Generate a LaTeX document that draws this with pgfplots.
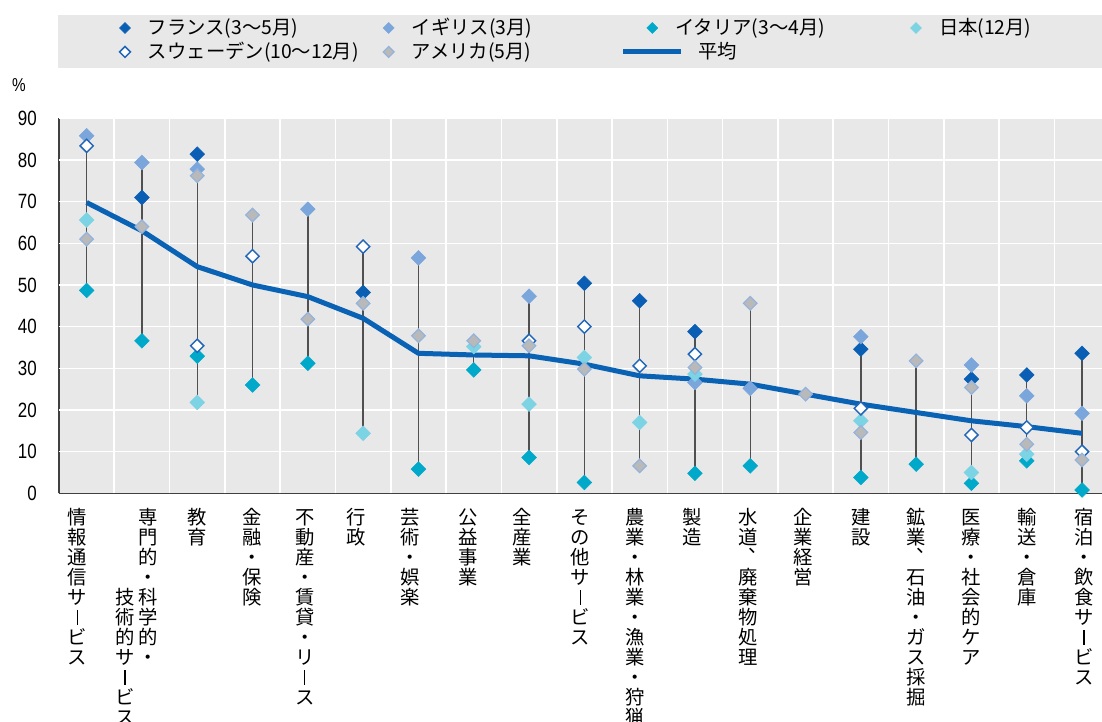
\documentclass[border=0pt]{standalone}
\usepackage{fontspec}
\setmainfont{Noto Sans CJK JP}
\newfontfamily\numfont[FakeStretch=0.82]{Liberation Sans}
\usepackage{pgfplots}
\pgfplotsset{compat=1.18}

\definecolor{bggray}{HTML}{E8E8E8}
\definecolor{leggray}{HTML}{E8E8E8}
\definecolor{axisgray}{HTML}{404040}
\definecolor{frc}{HTML}{0A5FB4}
\definecolor{ukc}{HTML}{7BA6DC}
\definecolor{itc}{HTML}{00A9CA}
\definecolor{jpc}{HTML}{7CD3E4}
\definecolor{swc}{HTML}{2266B8}
\definecolor{usc}{HTML}{B9B9B9}
\definecolor{usb}{HTML}{93B3DC}
\definecolor{avgc}{HTML}{0A62B4}
\definecolor{rngc}{HTML}{505050}

% ---- vertical (tategaki) labels ----
\def\vtend{}
\newcommand\vtcell[1]{\hbox to 15pt{\hss\vrule height 12.6pt depth 2.4pt width 0pt\relax#1\hss}}
\def\vtchoon{ー}
\def\vttouten{、}
\def\vtone#1{\def\vttmp{#1}%
  \ifx\vttmp\vtchoon
    \vtcell{\raise5.1pt\hbox{\vrule width 0.9pt height 5.6pt depth 5.6pt}}%
  \else\ifx\vttmp\vttouten
    \vtcell{\hbox to 1em{\kern0.5em\raise0.58em\hbox{、}\hss}}%
  \else
    \vtcell{#1}%
  \fi\fi}
\def\vtaux#1{\ifx\vtend#1\else\vtone{#1}\expandafter\vtaux\fi}
\newcommand\vt[2][0pt]{\vtop{\offinterlineskip\hrule height0pt width0pt\kern#1\vtaux#2\vtend}}
\newcommand\vo[2]{\hbox{\vt{#2}\kern#1}}

\pgfplotsset{
  mkleg/.style={legend image code/.code={\path[draw=none,fill=none] (0pt,-4pt) rectangle (9pt,4pt); \draw[##1, mark size=2.9pt] plot coordinates {(4.5pt,0pt)};}},
  avgleg/.style={legend image code/.code={\path[draw=none,fill=none] (0pt,-4pt) rectangle (9pt,4pt); \draw[##1, overlay] (-17.25pt,0pt) -- (26.25pt,0pt);}}
}

\begin{document}
\begin{tikzpicture}
\fill[leggray] (-0.75pt,319pt) rectangle (782.25pt,358.7pt);
\begin{axis}[
  scale only axis, width=782.25pt, height=281.25pt,
  xmin=-0.5, xmax=18.361, ymin=0, ymax=90,
  axis background/.style={fill=bggray},
  axis x line*=bottom, axis y line*=left,
  axis line style={draw=axisgray, line width=1.2pt},
  ytick={0,10,...,90},
  xtick={0.5,1.5,...,17.5},
  xticklabels={},
  tick align=inside,
  major tick length=5pt,
  tick style={draw=axisgray, line width=0.9pt},
  /pgf/number format/assume math mode=true,
  yticklabel style={font=\numfont\fontsize{15.5}{18}\selectfont, anchor=east, inner sep=0pt, xshift=-16.5pt},
  xticklabel style={font=\fontsize{14.5}{15}\selectfont, anchor=north, inner sep=0pt, yshift=-10.3pt},
  extra x ticks={0,...,18},
  extra x tick style={tick style={draw=none}},
  extra x tick labels={
    {\vo{13.5pt}{情報通信サービス}},
    {\hbox{\vt[60pt]{技術的サービス}\kern2.25pt\vt{専門的・科学的・}\kern8.25pt}},
    {\vt{教育}},
    {\vt{金融・保険}},
    {\vo{4.5pt}{不動産・賃貸・リース}},
    {\vo{10.5pt}{行政}},
    {\vo{12pt}{芸術・娯楽}},
    {\vo{9pt}{公益事業}},
    {\vo{10.5pt}{全産業}},
    {\vo{6pt}{その他サービス}},
    {\vo{6pt}{農業・林業・漁業・狩猟}},
    {\vo{4.5pt}{製造}},
    {\vo{3pt}{水道、廃棄物処理}},
    {\vo{3pt}{企業経営}},
    {\vt{建設}},
    {\vt{鉱業、石油・ガス採掘}},
    {\vt{医療・社会的ケア}},
    {\vt{輸送・倉庫}},
    {\hbox{\kern3pt\vt{宿泊・飲食サービス}}}
  },
  legend columns=4,
  legend cell align=left,
  legend style={at={(axis description cs:0.05753,1.2658)}, anchor=north west,
    draw=none, fill=none, inner sep=0pt, outer sep=0pt, row sep=4pt,
    font=\fontsize{14.5}{17}\selectfont,
    nodes={inner sep=0pt, anchor=west, text height=12pt, text depth=2pt, text width=176pt, align=left},
    /tikz/every odd column/.append style={column sep=12.75pt},
    /tikz/every even column/.append style={column sep=0pt}},
]
% white grid
\pgfplotsinvokeforeach{0.5,1.5,...,17.5}{\draw[white, line width=1.2pt] (axis cs:#1,0) -- (axis cs:#1,90);}
\pgfplotsinvokeforeach{10,20,...,90}{\draw[white, line width=1.2pt] (axis cs:-0.5,#1) -- (axis cs:18.361,#1);}
% ranges
\addplot[rngc, line width=1pt, forget plot, unbounded coords=jump] coordinates {
(0,48.7)(0,85.8)(0,nan)
(1,36.6)(1,79.4)(1,nan)
(2,21.8)(2,81.4)(2,nan)
(3,26.0)(3,66.8)(3,nan)
(4,31.2)(4,68.2)(4,nan)
(5,14.4)(5,59.2)(5,nan)
(6,5.8)(6,56.5)(6,nan)
(7,29.6)(7,36.6)(7,nan)
(8,8.6)(8,47.3)(8,nan)
(9,2.6)(9,50.4)(9,nan)
(10,6.6)(10,46.2)(10,nan)
(11,4.8)(11,38.8)(11,nan)
(12,6.6)(12,45.6)(12,nan)
(14,3.8)(14,37.6)(14,nan)
(15,7.0)(15,31.8)(15,nan)
(16,2.4)(16,30.8)(16,nan)
(17,7.8)(17,28.4)(17,nan)
(18,0.8)(18,33.6)
};
% average
\addplot[avgc, line width=3.75pt, line join=round, forget plot] coordinates {
(0,69.8)(1,63.0)(2,54.4)(3,50.0)(4,47.2)(5,42.0)(6,33.6)(7,33.2)(8,33.0)(9,31.0)
(10,28.2)(11,27.4)(12,26.2)(13,23.8)(14,21.4)(15,19.4)(16,17.4)(17,16.0)(18,14.4)
};
% France
\addplot[only marks, mark=square*, mark size=3.9pt, mark options={rotate=45, draw=frc, fill=frc}, mkleg] coordinates {
(1,71.0)(2,81.4)(5,48.2)(9,50.4)(10,46.2)(11,38.8)(14,34.6)(16,27.4)(17,28.4)(18,33.6)
};
\addlegendentry{フランス(3～5月)}
% UK
\addplot[only marks, mark=square*, mark size=3.9pt, mark options={rotate=45, draw=ukc, fill=ukc}, mkleg] coordinates {
(0,85.8)(1,79.4)(2,77.8)(4,68.2)(6,56.5)(8,47.3)(11,26.6)(12,25.2)(14,37.6)(16,30.8)(17,23.4)(18,19.2)
};
\addlegendentry{イギリス(3月)}
% Italy
\addplot[only marks, mark=square*, mark size=3.9pt, mark options={rotate=45, draw=itc, fill=itc}, mkleg] coordinates {
(0,48.7)(1,36.6)(2,32.9)(3,26.0)(4,31.2)(6,5.8)(7,29.6)(8,8.6)(9,2.6)(11,4.8)(12,6.6)(14,3.8)(15,7.0)(16,2.4)(17,7.8)(18,0.8)
};
\addlegendentry{イタリア(3～4月)}
% Japan
\addplot[only marks, mark=square*, mark size=3.9pt, mark options={rotate=45, draw=jpc, fill=jpc}, mkleg] coordinates {
(0,65.6)(2,21.8)(5,14.4)(7,35.2)(8,21.4)(9,32.6)(10,17.0)(11,28.6)(14,17.4)(16,5.0)(17,9.4)
};
\addlegendentry{日本(12月)}
% Sweden
\addplot[only marks, mark=square*, mark size=3.5pt, mark options={rotate=45, draw=swc, fill=white, line width=1.1pt}, mkleg] coordinates {
(0,83.4)(2,35.4)(3,56.9)(5,59.2)(8,36.6)(9,40.0)(10,30.6)(11,33.4)(14,20.4)(16,14.0)(17,15.8)(18,10.0)
};
\addlegendentry{スウェーデン(10～12月)}
% USA
\addplot[only marks, mark=square*, mark size=3.6pt, mark options={rotate=45, draw=usb, fill=usc, line width=0.9pt}, mkleg] coordinates {
(0,61.0)(1,64.0)(2,76.2)(3,66.8)(4,41.8)(5,45.6)(6,37.8)(7,36.6)(8,35.4)(9,29.8)(10,6.6)(11,30.2)(12,45.6)(13,23.8)(14,14.6)(15,31.8)(16,25.4)(17,11.8)(18,8.0)
};
\addlegendentry{アメリカ(5月)}
\addlegendimage{avgc, line width=3.75pt, avgleg}
\addlegendentry{\hspace*{17.25pt}平均}
\end{axis}
\node[font=\numfont\fontsize{14}{16}\selectfont, inner sep=0pt] at (-30pt,306.2pt) {\%};
\pgfresetboundingbox
\path[use as bounding box] (-44.25pt,-171.5pt) rectangle (782.25pt,369.98pt);
\end{tikzpicture}
\end{document}
